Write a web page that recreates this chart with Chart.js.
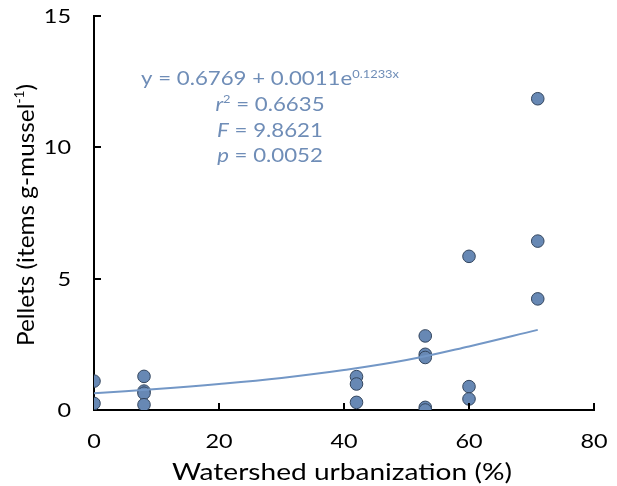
<!DOCTYPE html>
<html>
<head>
<meta charset="utf-8">
<script src="https://cdn.jsdelivr.net/npm/chart.js@4/dist/chart.umd.min.js"></script>
<style>
  html, body { margin: 0; padding: 0; background: #fff; }
  #wrap { width: 617px; height: 486px; }
</style>
</head>
<body>
<div id="wrap"><canvas id="pelletChart" width="617" height="486"></canvas></div>
<script>
'use strict';

/* ── Data ── */
const urbanization = [0, 0, 8, 8, 8, 8, 42, 42, 42, 53, 53, 53, 53, 53, 60, 60, 60, 71, 71, 71];
const pellets      = [1.1, 0.25, 1.28, 0.72, 0.64, 0.2, 1.27, 0.99, 0.29, 2.82, 2.12, 2.0, 0.1, 0.0, 5.85, 0.89, 0.42, 11.85, 6.43, 4.23];

// fitted trend
const trendX = [0, 10, 20, 30, 40, 50, 60, 71];
const trendY = [0.64, 0.80, 0.99, 1.22, 1.52, 1.90, 2.42, 3.05];

const xTicks = [0, 20, 40, 60, 80];
const yTicks = [0, 5, 10, 15];

const xTitle = 'Watershed urbanization (%)';
const yTitleParts = ['Pellets (items g-mussel', '-1', ')'];

const statLines = [
  { sym: 'y', italic: false, text: ' = 0.6769 + 0.0011e', sup: '0.1233x', supAfter: true },
  { sym: 'r', italic: true, sup: '2', text: ' = 0.6635' },
  { sym: 'F', italic: true, text: ' = 9.8621' },
  { sym: 'p', italic: true, text: ' = 0.0052' },
];

const FONT = 'Lato, "Open Sans", sans-serif';
const STAT_COLOR = '#6f8db7';
const WIDEN = 1.17;   // text is set a little wider than Lato's natural width

/* draw one string, widened horizontally about its anchor */
function wideText(ctx, str, x, y, font, align) {
  ctx.save();
  ctx.translate(x, y);
  ctx.scale(WIDEN, 1);
  ctx.font = font;
  ctx.textAlign = align || 'left';
  ctx.fillText(str, 0, 0);
  ctx.restore();
}

/* ── Inner tick marks ── */
const innerTicks = {
  id: 'innerTicks',
  afterDraw(chart) {
    const { ctx, scales: { x, y }, chartArea: a } = chart;
    ctx.save();
    ctx.strokeStyle = '#000';
    ctx.lineWidth = 2;
    ctx.beginPath();
    xTicks.slice(1).forEach(v => {
      const px = Math.round(x.getPixelForValue(v));
      ctx.moveTo(px, a.bottom); ctx.lineTo(px, a.bottom - 7);
    });
    yTicks.slice(1).forEach(v => {
      const py = Math.round(y.getPixelForValue(v));
      ctx.moveTo(a.left, py); ctx.lineTo(a.left + 7, py);
    });
    ctx.stroke();
    ctx.restore();
  }
};

/* ── Tick labels and axis titles ── */
const axisText = {
  id: 'axisText',
  afterDraw(chart) {
    const { ctx, scales: { x, y }, chartArea: a } = chart;
    const tickFont = '20px ' + FONT;
    ctx.save();
    ctx.fillStyle = '#000';
    ctx.textBaseline = 'alphabetic';
    xTicks.forEach(v => wideText(ctx, String(v), x.getPixelForValue(v), a.bottom + 38, tickFont, 'center'));
    yTicks.forEach(v => wideText(ctx, String(v), a.left - 23, y.getPixelForValue(v) + 7, tickFont, 'right'));

    wideText(ctx, xTitle, (a.left + a.right) / 2 - 2, 480, '24px ' + FONT, 'center');

    // vertical title, with the -1 raised as a superscript
    const main = '23px ' + FONT, small = '13px ' + FONT;
    const [pa, ps, pb] = yTitleParts;
    ctx.font = main; const wa = ctx.measureText(pa).width, wb = ctx.measureText(pb).width;
    ctx.font = small; const ws = ctx.measureText(ps).width;
    ctx.translate(34, 215);
    ctx.rotate(-Math.PI / 2);
    ctx.scale(1.06, 1);
    let cx = -(wa + ws + wb) / 2;
    ctx.font = main; ctx.fillText(pa, cx, 0); cx += wa;
    ctx.font = small; ctx.fillText(ps, cx, -10); cx += ws;
    ctx.font = main; ctx.fillText(pb, cx, 0);
    ctx.restore();
  }
};

/* ── Regression statistics block ── */
const statsBlock = {
  id: 'statsBlock',
  afterDraw(chart) {
    const { ctx } = chart;
    const centerX = 270;
    const baselines = [85, 111, 137, 162];
    const main = '19px ' + FONT, ital = 'italic 19px ' + FONT, small = '11px ' + FONT;
    ctx.save();
    ctx.fillStyle = STAT_COLOR;
    ctx.textBaseline = 'alphabetic';
    statLines.forEach((ln, i) => {
      const parts = [];
      parts.push({ t: ln.sym, f: ln.italic ? ital : main, dy: 0 });
      if (ln.sup && !ln.supAfter) parts.push({ t: ln.sup, f: small, dy: -8 });
      parts.push({ t: ln.text, f: main, dy: 0 });
      if (ln.sup && ln.supAfter) parts.push({ t: ln.sup, f: small, dy: -7 });
      let w = 0;
      parts.forEach(p => { ctx.font = p.f; p.w = ctx.measureText(p.t).width * WIDEN; w += p.w; });
      let cx = centerX - w / 2;
      parts.forEach(p => { wideText(ctx, p.t, cx, baselines[i] + p.dy, p.f, 'left'); cx += p.w; });
    });
    ctx.restore();
  }
};

new Chart(document.getElementById('pelletChart'), {
  type: 'scatter',
  data: {
    datasets: [
      {
        type: 'line',
        data: trendX.map((v, i) => ({ x: v, y: trendY[i] })),
        borderColor: '#7397c6',
        borderWidth: 2,
        pointRadius: 0,
        tension: 0.4,
        fill: false,
      },
      {
        data: urbanization.map((v, i) => ({ x: v, y: pellets[i] })),
        backgroundColor: '#6788b4',
        borderColor: '#34465e',
        borderWidth: 1,
        pointRadius: 6.3,
      }
    ]
  },
  options: {
    responsive: false,
    animation: false,
    layout: { padding: { top: 16, right: 23, left: 0, bottom: 0 } },
    plugins: { legend: { display: false }, tooltip: { enabled: false } },
    scales: {
      x: {
        type: 'linear', min: 0, max: 80,
        afterBuildTicks: s => { s.ticks = xTicks.map(v => ({ value: v })); },
        afterFit: s => { s.height = 76; s.paddingLeft = 0; s.paddingRight = 0; },
        grid: { display: false, drawTicks: false },
        border: { color: '#000', width: 2 },
        ticks: { display: false },
      },
      y: {
        type: 'linear', min: 0, max: 15,
        afterBuildTicks: s => { s.ticks = yTicks.map(v => ({ value: v })); },
        afterFit: s => { s.width = 94; s.paddingTop = 0; s.paddingBottom = 0; },
        grid: { display: false, drawTicks: false },
        border: { color: '#000', width: 2 },
        ticks: { display: false },
      }
    }
  },
  plugins: [innerTicks, axisText, statsBlock]
});
</script>
</body>
</html>
